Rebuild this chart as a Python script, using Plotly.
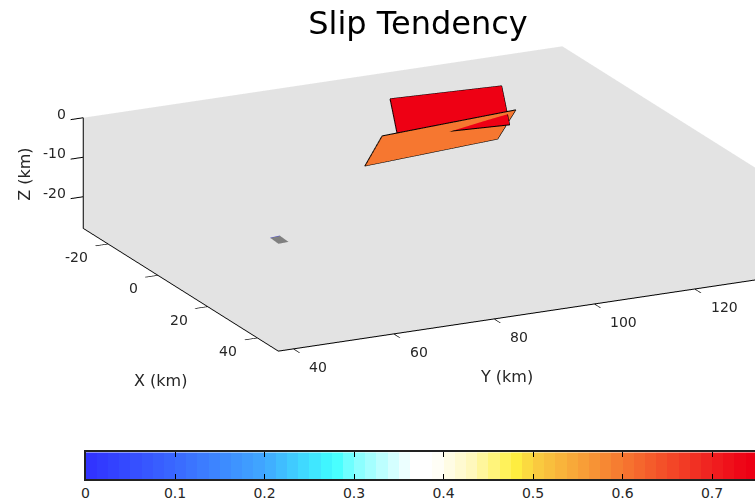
import numpy as np
import plotly.graph_objects as go

TITLE = "Slip Tendency"
X_TICKS = [-20, 0, 20, 40]
Y_TICKS = [40, 60, 80, 100, 120]
Z_TICKS = [-20, -10, 0]
CB_TICKS = [0, 0.1, 0.2, 0.3, 0.4, 0.5, 0.6, 0.7]
X_RANGE = [-30, 48.4]
Y_RANGE = [37, 132.5]
Z_RANGE = [-28, 0]

# fault patches (km)
red_x = [-20.2, -18.3, -13.9, -16.3]
red_y = [93.3, 114.6, 114.0, 92.9]
red_z = [-2, -2, -10, -10]
red_value = 0.74

orange_x = [-11.5, -14.65, -20.1, -16.4]
orange_y = [87.4, 115.6, 114.7, 86.4]
orange_z = [-6.81, -6.81, -16.16, -16.16]
orange_value = 0.6

small_x = [26.0, 25.7, 29.5, 29.7]
small_y = [46.5, 48.6, 48.4, 46.3]
small_z = [-10, -10, -10, -10]

COLORS = [
    (0.0, "#3030ff"), (0.1, "#3a68ff"), (0.2, "#40a8ff"), (0.278, "#40ffff"),
    (0.3, "#80ffff"), (0.366, "#ffffff"), (0.388, "#ffffff"), (0.43, "#fff8c0"),
    (0.479, "#fff040"), (0.5, "#fad040"), (0.6, "#f67830"), (0.7, "#f02020"),
    (0.74, "#ee0014"), (0.8, "#e00014"),
]
CMAX = 0.8
colorscale = [[v / CMAX, c] for v, c in COLORS]
levels = np.arange(0.00625, CMAX, 0.0125)
FLAT = dict(ambient=1, diffuse=0, specular=0, fresnel=0)
FONT = "DejaVu Sans"
INK = "#262626"


def patch(x, y, z, value=None, color=None):
    kw = dict(x=x, y=y, z=z, i=[0, 0], j=[1, 2], k=[2, 3], lighting=FLAT,
              flatshading=True, hoverinfo="skip", showscale=False)
    if color:
        kw["color"] = color
    else:
        kw.update(intensity=[value] * 4, colorscale=colorscale, cmin=0, cmax=CMAX)
    return go.Mesh3d(**kw)


def outline(x, y, z, color="black", width=2):
    return go.Scatter3d(x=x, y=y, z=z, mode="lines",
                        line=dict(color=color, width=width), hoverinfo="skip", showlegend=False)


def closed(v):
    return v + v[:1]


fig = go.Figure()
fig.add_trace(patch(red_x, red_y, red_z, value=red_value))
fig.add_trace(outline(closed(red_x), closed(red_y), closed(red_z)))
fig.add_trace(patch(orange_x, orange_y, orange_z, value=orange_value))
fig.add_trace(outline(closed(orange_x), closed(orange_y), closed(orange_z)))
fig.add_trace(patch(small_x, small_y, small_z, color="#808080"))
fig.add_trace(outline(small_x[:2], small_y[:2], small_z[:2], color="#3030ff", width=1))

fig.add_trace(go.Heatmap(x=levels, y=[0.5], z=[levels], colorscale=colorscale, zmin=0, zmax=CMAX,
                         showscale=False, hoverinfo="skip", xaxis="x", yaxis="y"))


def axis3d(tickvals, rng):
    return dict(
        title=dict(text=""), showticklabels=False,
        range=rng, tickvals=tickvals, ticks="outside", ticklen=14, tickwidth=2, tickcolor="black",
        showgrid=False, zeroline=False, showline=True, linecolor="black", linewidth=2,
        showbackground=True, backgroundcolor="#e3e3e3", showspikes=False,
    )


def tick_notes():
    notes = []
    style = dict(showarrow=False, font=dict(family=FONT, size=14, color=INK), yanchor="middle")
    for v in X_TICKS:
        notes.append(dict(x=v, y=Y_RANGE[0], z=Z_RANGE[0], text=str(v), xanchor="right", xshift=-18, yshift=-13, **style))
    for v in Y_TICKS:
        notes.append(dict(x=X_RANGE[1], y=v, z=Z_RANGE[0], text=str(v), xanchor="left", xshift=14, yshift=-18, **style))
    for v in Z_TICKS:
        notes.append(dict(x=X_RANGE[0], y=Y_RANGE[0], z=v, text=str(v), xanchor="right", xshift=-15, yshift=4, **style))
    return notes


def title_note(text, px, py, angle=0):
    return dict(xref="paper", yref="paper", x=px / 755, y=1 - py / 501, text=text, textangle=angle,
                showarrow=False, xanchor="center", yanchor="middle",
                font=dict(family=FONT, size=16, color=INK))


fig.update_layout(
    width=755, height=501, margin=dict(l=0, r=0, t=0, b=0),
    paper_bgcolor="white", plot_bgcolor="white", showlegend=False,
    title=dict(text=TITLE, x=418 / 755, y=1 - 23 / 501, xanchor="center", yanchor="middle",
               font=dict(family=FONT, size=32, color="black")),
    annotations=[title_note("X (km)", 157, 383), title_note("Y (km)", 505.5, 379),
                 title_note("Z (km)", 21, 175, -90)],
    scene=dict(
        domain=dict(x=[0, 1], y=[0, 1]),
        xaxis=axis3d(X_TICKS, X_RANGE),
        yaxis=axis3d(Y_TICKS, Y_RANGE),
        zaxis=axis3d(Z_TICKS, Z_RANGE),
        aspectmode="manual",
        aspectratio=dict(x=1.79, y=2.14, z=0.4665),
        annotations=tick_notes(),
        camera=dict(
            projection=dict(type="orthographic"),
            eye=dict(x=3.4075, y=-1.8413, z=1.0333),
            up=dict(x=0, y=0, z=1),
            center=dict(x=-0.0162, y=-0.1745, z=-0.1923),
        ),
    ),
    xaxis=dict(domain=[82 / 755, 1], range=[0, 0.748], tickvals=CB_TICKS, ticks="inside", ticklen=5,
               tickcolor="black", mirror="allticks", showline=True, linecolor="#222222", linewidth=2,
               showgrid=False, zeroline=False, anchor="y",
               tickfont=dict(family=FONT, size=14, color=INK), tickformat="~g"),
    yaxis=dict(domain=[19 / 501, 46 / 501], range=[0, 1], showticklabels=False, ticks="",
               showline=True, linecolor="#222222", linewidth=2, mirror=False, showgrid=False,
               zeroline=False, anchor="x"),
)
fig.write_html("out.html", config=dict(displayModeBar=False),
               post_script="document.body.style.margin='0';document.body.style.overflow='hidden';")
